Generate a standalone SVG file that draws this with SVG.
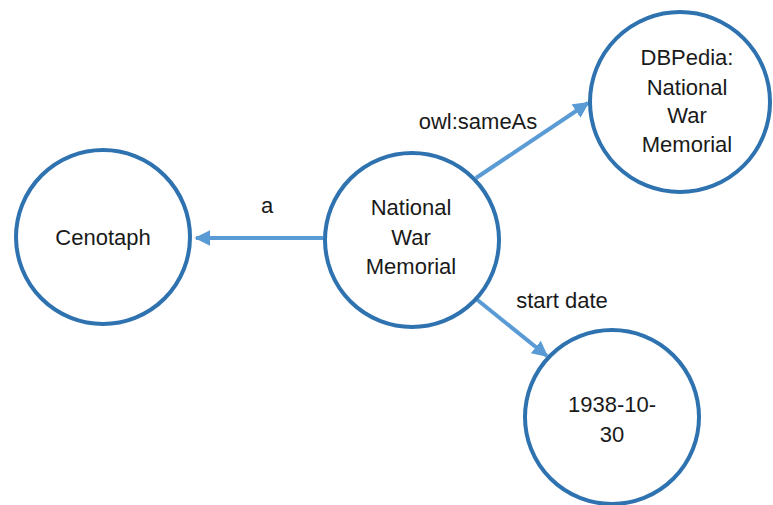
<svg xmlns="http://www.w3.org/2000/svg" width="773" height="505" viewBox="0 0 773 505">
  <style>
    .node { fill: #ffffff; stroke: #2e72b0; stroke-width: 4; }
    .label { font-family: "Liberation Sans", Arial, sans-serif; font-size: 22px; fill: #1a1a1a; text-anchor: middle; }
    .edge { stroke: #5b9bd5; stroke-width: 4; fill: none; marker-end: url(#arrow); }
  </style>
  <defs>
    <marker id="arrow" viewBox="0 0 10 10" refX="9" refY="5" markerWidth="4" markerHeight="4" orient="auto" markerUnits="strokeWidth">
      <path d="M0,0 L10,5 L0,10 z" fill="#5b9bd5"/>
    </marker>
  </defs>

  <rect width="773" height="505" fill="#ffffff"/>

  <!-- connectors -->
  <g id="edges">
    <line class="edge" x1="323" y1="238" x2="196" y2="238"/>
    <line class="edge" x1="476" y1="178" x2="588" y2="103"/>
    <line class="edge" x1="475" y1="298" x2="547" y2="356"/>
    <text class="label" x="267" y="213">a</text>
    <text class="label" x="478" y="129">owl:sameAs</text>
    <text class="label" x="562" y="308">start date</text>
  </g>

  <g id="cenotaph">
    <circle class="node" cx="103" cy="237" r="87"/>
    <text class="label" x="103" y="245">Cenotaph</text>
  </g>

  <g id="national-war-memorial">
    <circle class="node" cx="412" cy="240" r="87"/>
    <text class="label" x="411" y="215">National</text>
    <text class="label" x="411" y="245">War</text>
    <text class="label" x="411" y="274">Memorial</text>
  </g>

  <g id="dbpedia-national-war-memorial">
    <circle class="node" cx="680" cy="102" r="90"/>
    <text class="label" x="687" y="65">DBPedia:</text>
    <text class="label" x="687" y="95">National</text>
    <text class="label" x="687" y="123">War</text>
    <text class="label" x="687" y="152">Memorial</text>
  </g>

  <g id="start-date-value">
    <circle class="node" cx="612" cy="417" r="87"/>
    <text class="label" x="612" y="412">1938-10-</text>
    <text class="label" x="612" y="442">30</text>
  </g>
</svg>
